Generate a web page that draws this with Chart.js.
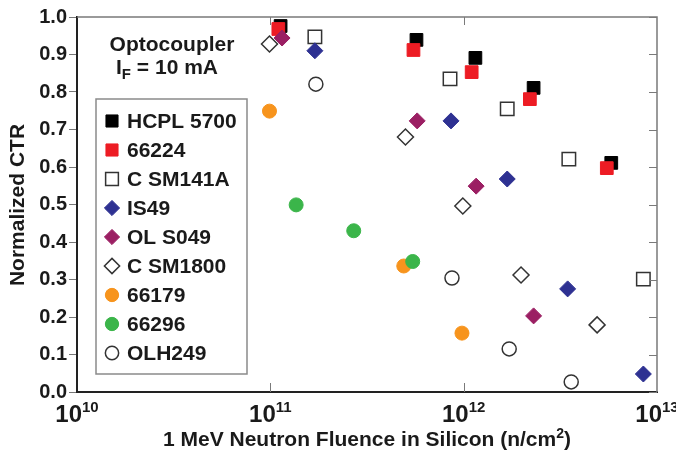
<!DOCTYPE html>
<html>
<head>
<meta charset="utf-8">
<script src="https://cdn.jsdelivr.net/npm/chart.js@4.4.0/dist/chart.umd.min.js"></script>
<style>
    html, body { margin: 0; padding: 0; background: #fff; }
</style>
</head>
<body>
<canvas id="myChart" width="676" height="452"></canvas>
<script>
        // series data (x = fluence n/cm^2, y = normalized CTR)
        const seriesNames = ['HCPL 5700', '66224', 'C SM141A', 'IS49', 'OL S049', 'C SM1800', '66179', '66296', 'OLH249'];

        const hcplX = [1.13e11, 5.7e11, 1.15e12, 2.3e12, 5.8e12];
        const hcplY = [0.976, 0.939, 0.891, 0.811, 0.611];
        const s66224X = [1.1e11, 5.5e11, 1.1e12, 2.2e12, 5.5e12];
        const s66224Y = [0.968, 0.912, 0.853, 0.781, 0.597];
        const csm141aX = [1.7e11, 8.5e11, 1.68e12, 3.5e12, 8.5e12];
        const csm141aY = [0.947, 0.835, 0.755, 0.621, 0.301];
        const is49X = [1.7e11, 8.6e11, 1.68e12, 3.45e12, 8.5e12];
        const is49Y = [0.910, 0.723, 0.568, 0.275, 0.048];
        const ols049X = [1.15e11, 5.75e11, 1.16e12, 2.3e12];
        const ols049Y = [0.944, 0.723, 0.549, 0.203];
        const csm1800X = [9.9e10, 5.0e11, 9.9e11, 1.98e12, 4.9e12];
        const csm1800Y = [0.928, 0.680, 0.496, 0.312, 0.179];
        const s66179X = [9.9e10, 4.9e11, 9.8e11];
        const s66179Y = [0.749, 0.336, 0.157];
        const s66296X = [1.36e11, 2.7e11, 5.45e11];
        const s66296Y = [0.499, 0.430, 0.348];
        const olh249X = [1.72e11, 8.7e11, 1.72e12, 3.6e12];
        const olh249Y = [0.821, 0.304, 0.115, 0.027];

        const xTickValues = [1e10, 1e11, 1e12, 1e13];
        const xTickExponents = ['10', '11', '12', '13'];

        const FONT = '"Liberation Sans", Arial, Helvetica, sans-serif';

        function pts(xs, ys) {
            return xs.map((x, i) => ({ x: x, y: ys[i] }));
        }

        function makeSet(i, xs, ys, style, radius, fill, border, bw) {
            return {
                label: seriesNames[i],
                data: pts(xs, ys),
                pointStyle: style,
                pointRadius: radius,
                pointHoverRadius: radius,
                backgroundColor: fill,
                borderColor: border,
                borderWidth: bw,
                showLine: false,
                order: 20 - i,   // later series on top, like the original
                clip: false
            };
        }

        const datasets = [
            makeSet(0, hcplX, hcplY, 'rect', 9, '#000000', '#000000', 1),
            makeSet(1, s66224X, s66224Y, 'rect', 9, '#ed1c24', '#ed1c24', 1),
            makeSet(2, csm141aX, csm141aY, 'rect', 9.5, '#ffffff', '#333333', 1.5),
            makeSet(3, is49X, is49Y, 'rectRot', 8, '#2e3192', '#2e3192', 1),
            makeSet(4, ols049X, ols049Y, 'rectRot', 8, '#9b1f63', '#9b1f63', 1),
            makeSet(5, csm1800X, csm1800Y, 'rectRot', 8, '#ffffff', '#333333', 1.5),
            makeSet(6, s66179X, s66179Y, 'circle', 7, '#f7941d', '#f7941d', 1),
            makeSet(7, s66296X, s66296Y, 'circle', 7, '#3bb54a', '#3bb54a', 1),
            makeSet(8, olh249X, olh249Y, 'circle', 7, '#ffffff', '#333333', 1.5)
        ];

        // draw a line of text made of parts (for sub/superscripts), centred on cx
        function drawRich(ctx, parts, cx, baseline) {
            let total = 0;
            parts.forEach(p => { ctx.font = p.font; p.w = ctx.measureText(p.text).width; total += p.w; });
            let x = cx - total / 2;
            ctx.textAlign = 'left';
            ctx.textBaseline = 'alphabetic';
            parts.forEach(p => {
                ctx.font = p.font;
                ctx.fillText(p.text, x, baseline + (p.dy || 0));
                x += p.w;
            });
        }

        const decorPlugin = {
            id: 'decor',
            afterDraw(chart) {
                const ctx = chart.ctx;
                const area = chart.chartArea;
                const xs = chart.scales.x;
                const ys = chart.scales.y;
                ctx.save();

                // top and right frame
                ctx.strokeStyle = '#7a7a7a';
                ctx.lineWidth = 1.5;
                ctx.beginPath();
                ctx.moveTo(area.left, area.top);
                ctx.lineTo(area.right, area.top);
                ctx.lineTo(area.right, area.bottom);
                ctx.stroke();

                // inward ticks
                ctx.lineWidth = 1;
                ctx.beginPath();
                xTickValues.forEach(v => {
                    const px = Math.round(xs.getPixelForValue(v)) + 0.5;
                    if (px <= area.left + 2 || px >= area.right - 2) return;
                    ctx.moveTo(px, area.top);
                    ctx.lineTo(px, area.top + 8);
                    ctx.moveTo(px, area.bottom);
                    ctx.lineTo(px, area.bottom - 9);
                });
                ys.ticks.forEach(t => {
                    const py = Math.round(ys.getPixelForValue(t.value)) + 0.5;
                    ctx.moveTo(area.right, py);
                    ctx.lineTo(area.right - 8, py);
                });
                ctx.stroke();

                ctx.fillStyle = '#1a1a1a';

                // x tick labels with superscript exponents
                xTickValues.forEach((v, i) => {
                    const px = xs.getPixelForValue(v);
                    drawRich(ctx, [
                        { text: '10', font: 'bold 24px ' + FONT },
                        { text: xTickExponents[i], font: 'bold 15px ' + FONT, dy: -10 }
                    ], px, 422);
                });

                // x axis title
                drawRich(ctx, [
                    { text: '1 MeV Neutron Fluence in Silicon (n/cm', font: 'bold 21px ' + FONT },
                    { text: '2', font: 'bold 14px ' + FONT, dy: -8 },
                    { text: ')', font: 'bold 21px ' + FONT }
                ], 367, 446);

                // y axis title
                ctx.save();
                ctx.translate(18, 205);
                ctx.rotate(-Math.PI / 2);
                ctx.font = 'bold 21px ' + FONT;
                ctx.textAlign = 'center';
                ctx.textBaseline = 'middle';
                ctx.fillText('Normalized CTR', 0, 0);
                ctx.restore();

                // annotation
                drawRich(ctx, [{ text: 'Optocoupler', font: 'bold 21px ' + FONT }], 172, 51);
                drawRich(ctx, [
                    { text: 'I', font: 'bold 21px ' + FONT },
                    { text: 'F', font: 'bold 15px ' + FONT, dy: 5 },
                    { text: ' = 10 mA', font: 'bold 21px ' + FONT }
                ], 167, 74);

                // legend box
                const lx = 96, ly = 99, lw = 151, lh = 275;
                ctx.fillStyle = '#ffffff';
                ctx.fillRect(lx, ly, lw, lh);
                ctx.strokeStyle = '#8a8a8a';
                ctx.lineWidth = 1.5;
                ctx.strokeRect(lx, ly, lw, lh);

                chart.data.datasets.forEach((ds, i) => {
                    const cy = 121 + i * 29;
                    ctx.fillStyle = ds.backgroundColor;
                    ctx.strokeStyle = ds.borderColor;
                    ctx.lineWidth = ds.borderWidth;
                    Chart.helpers.drawPoint(ctx, {
                        pointStyle: ds.pointStyle,
                        radius: ds.pointRadius * 0.95,
                        rotation: 0,
                        borderWidth: ds.borderWidth
                    }, 112, cy);
                    ctx.fillStyle = '#1a1a1a';
                    ctx.font = 'bold 21px ' + FONT;
                    ctx.textAlign = 'left';
                    ctx.textBaseline = 'middle';
                    ctx.fillText(ds.label, 127, cy + 1);
                });

                ctx.restore();
            }
        };

        const ctx = document.getElementById('myChart').getContext('2d');

        const myChart = new Chart(ctx, {
            type: 'scatter',
            data: { datasets: datasets },
            options: {
                responsive: false,
                animation: false,
                devicePixelRatio: 1,
                layout: { padding: { top: 17, right: 19, left: 0, bottom: 0 } },
                plugins: {
                    legend: { display: false },
                    tooltip: { enabled: false }
                },
                scales: {
                    x: {
                        type: 'logarithmic',
                        min: 1e10,
                        max: 1e13,
                        afterBuildTicks: (scale) => {
                            scale.ticks = xTickValues.map(v => ({ value: v, major: true }));
                        },
                        afterFit: (scale) => { scale.height = 60; },
                        ticks: { display: false },
                        grid: { display: false },
                        border: { display: true, color: '#222', width: 2 }
                    },
                    y: {
                        min: 0,
                        max: 1,
                        afterFit: (scale) => { scale.width = 77; },
                        ticks: {
                            stepSize: 0.1,
                            color: '#1a1a1a',
                            padding: 2,
                            font: { family: FONT, size: 20, weight: 'bold' },
                            callback: (v) => v.toFixed(1)
                        },
                        grid: {
                            drawOnChartArea: false,
                            drawTicks: true,
                            tickLength: 8,
                            color: '#777'
                        },
                        border: { display: true, color: '#222', width: 2 }
                    }
                }
            },
            plugins: [decorPlugin]
        });
</script>
</body>
</html>
